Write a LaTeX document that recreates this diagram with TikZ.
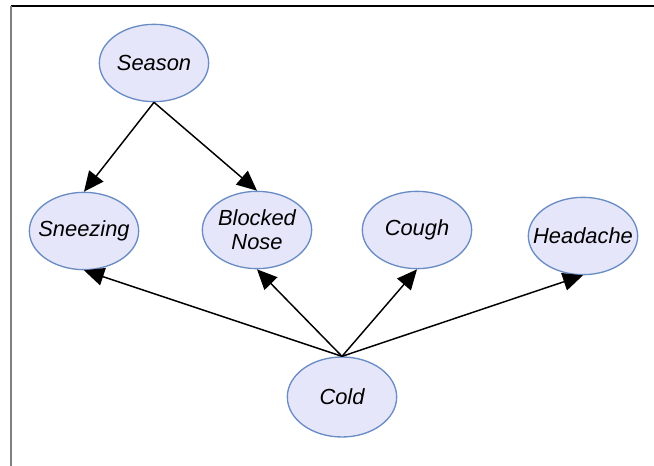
\documentclass[tikz,border=0pt]{standalone}
\usepackage{fontspec}
\setmainfont{Liberation Sans}
\usetikzlibrary{shapes.geometric,arrows.meta}
\definecolor{nodefill}{RGB}{230,230,250}
\definecolor{nodeline}{RGB}{106,140,196}
\tikzset{
  var/.style={ellipse, draw=nodeline, line width=1pt, fill=nodefill,
    minimum width=82pt, minimum height=58pt, inner xsep=-12pt, inner ysep=-10pt,
    font=\fontsize{16.4}{17.8}\selectfont\itshape, align=center},
  link/.style={draw=black, line width=1.1pt,
    -{Triangle[length=15pt,width=13.5pt]}}
}
\begin{document}
\begin{tikzpicture}[x=0.75pt,y=-0.75pt]
  \useasboundingbox (0,0) rectangle (654,466);
  \fill[white] (0,0) rectangle (654,466);
  % frame
  \draw[black, line width=0.9pt] (11,6) -- (654,6);
  \draw[gray, line width=1.5pt] (11,6) -- (11,466);

  % variables
  \node[var] (season)   at (154,63)  {Season};
  \node[var] (sneezing) at (84,231)  {Sneezing};
  \node[var] (blocked)  at (257,230) {Blocked\\Nose};
  \node[var] (cough)    at (417,230) {Cough};
  \node[var] (headache) at (583,236) {Headache};
  \node[var, minimum height=60pt] (cold) at (342,397) {Cold};

  % dependencies
  \draw[link] (season.south) -- (sneezing.north);
  \draw[link] (season.south) -- (blocked.north);
  \draw[link] (cold.north) -- (sneezing.south);
  \draw[link] (cold.north) -- (blocked.south);
  \draw[link] (cold.north) -- (cough.south);
  \draw[link] (cold.north) -- (headache.south);
\end{tikzpicture}
\end{document}
